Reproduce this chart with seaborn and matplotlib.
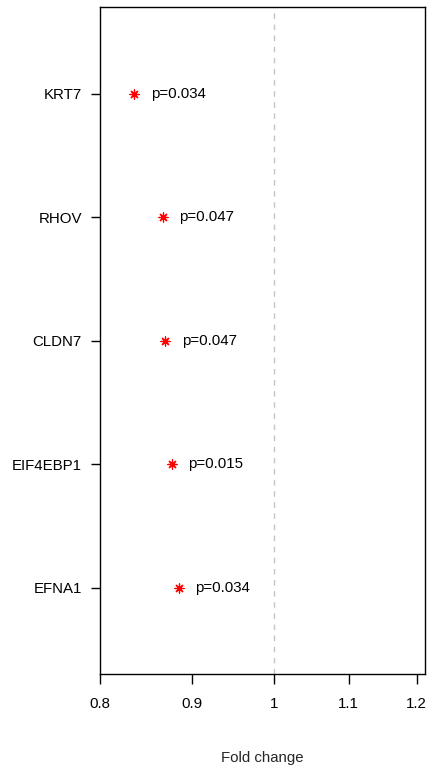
import matplotlib
matplotlib.use("Agg")
import matplotlib.pyplot as plt
from matplotlib.ticker import FixedLocator, FixedFormatter, NullLocator
import seaborn as sns
import pandas as pd

# Genes (top to bottom), fold changes and p-values
genes = ["KRT7", "RHOV", "CLDN7", "EIF4EBP1", "EFNA1"]
fold_change = [0.836, 0.867, 0.870, 0.877, 0.885]
p_values = ["0.034", "0.047", "0.047", "0.015", "0.034"]
x_ticks = [0.8, 0.9, 1.0, 1.1, 1.2]
x_tick_labels = ["0.8", "0.9", "1", "1.1", "1.2"]

sns.set_style("white")
plt.rcParams["font.family"] = ["Liberation Sans", "DejaVu Sans"]

n = len(genes)
df = pd.DataFrame({
    "gene": genes,
    "fc": fold_change,
    "pos": [n - i for i in range(n)],
    "p": p_values,
})

fig = plt.figure(figsize=(4.30, 7.67), dpi=100)
W, H = 430, 767
ax = fig.add_axes([100 / W, 1 - 674.3 / H, (425 - 100) / W, (674.3 - 7.3) / H])

ax.set_xscale("log")
ax.axvline(1.0, color="#c4c4c4", linestyle=(0, (4, 4)), linewidth=1.0, zorder=1)

sns.scatterplot(data=df, x="fc", y="pos", ax=ax, marker=(8, 2, 0), s=42,
                color="#ff0000", edgecolor="#ff0000", linewidth=0.9, zorder=3, legend=False)

for _, row in df.iterrows():
    ax.annotate(f"p={row['p']}", xy=(row["fc"], row["pos"]), xytext=(12, 0),
                textcoords="offset points", ha="left", va="center", fontsize=10.8,
                color="black")

ax.set_xlim(0.8, 1.213)
ax.set_ylim(0.3, 5.7)

ax.xaxis.set_major_locator(FixedLocator(x_ticks))
ax.xaxis.set_major_formatter(FixedFormatter(x_tick_labels))
ax.xaxis.set_minor_locator(NullLocator())
ax.set_yticks(df["pos"])
ax.set_yticklabels(df["gene"])

for sp in ax.spines.values():
    sp.set_visible(True)
    sp.set_color("black")
    sp.set_linewidth(1.0)

ax.tick_params(axis="x", direction="out", length=7.2, width=1.0, pad=9.0,
               labelsize=10.8, colors="black", bottom=True)
ax.tick_params(axis="y", direction="out", length=6.5, width=1.0, pad=6.5,
               labelsize=10.8, colors="black", left=True)

ax.set_xlabel("")
ax.set_ylabel("")
fig.text(262.5 / W, 1 - 758 / H, "Fold change", ha="center", va="center", fontsize=10.8)

fig.savefig("out.png", dpi=100, facecolor="white")
